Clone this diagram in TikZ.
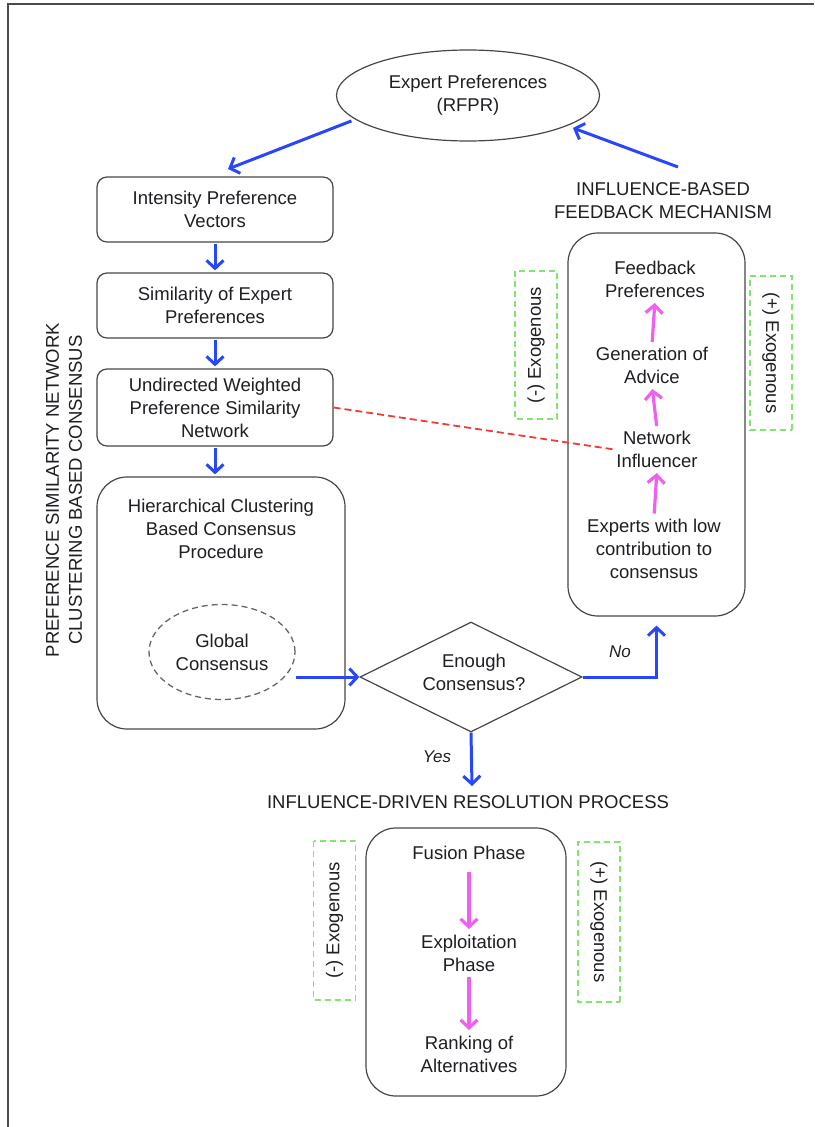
\documentclass[tikz,border=0pt]{standalone}
\usepackage{fontspec}
\setmainfont{Liberation Sans}
\usetikzlibrary{arrows.meta,shapes.geometric}
\definecolor{ablue}{RGB}{40,70,250}
\definecolor{amag}{RGB}{240,95,240}
\definecolor{ared}{RGB}{240,60,50}
\definecolor{agreen}{RGB}{130,230,110}
\definecolor{aline}{RGB}{70,70,70}
\definecolor{atext}{RGB}{30,30,35}
\newcommand{\fsz}{\fontsize{18.5}{23}\selectfont}
\begin{document}
\begin{tikzpicture}[x=1pt,y=-1pt,
  txt/.style={font=\fsz, align=center, inner sep=2pt, text=atext},
  box/.style={draw=aline, line width=1.2pt, rounded corners=10pt},
  bigbox/.style={draw=aline, line width=1.2pt, rounded corners=30pt},
  barrow/.style={draw=ablue, line width=3pt, -{Straight Barb[length=8pt,width=17pt]}},
  marrow/.style={draw=amag, line width=3.2pt, -{Straight Barb[length=8pt,width=17pt]}},
  exo/.style={draw=agreen, dashed, dash pattern=on 6pt off 4pt, line width=1.2pt, font=\fsz, text=atext, inner sep=0pt, minimum height=42pt},
  lbl/.style={font=\itshape\fontsize{17}{20}\selectfont, text=atext},
  ]
\useasboundingbox (0,0) rectangle (814,1127);
\draw[gray!60!black, line width=1.5pt] (8,1127) -- (8,4) -- (814,4);

% top ellipse
\node[draw=aline, line width=1.2pt, ellipse, minimum width=263pt, minimum height=91pt, txt] (ep) at (468,95.5) {Expert Preferences\\(RFPR)};

% left column
\node[box, txt, minimum width=236pt, minimum height=65pt] (b1) at (215,209.5) {Intensity Preference\\Vectors};
\node[box, txt, minimum width=236pt, minimum height=65pt] (b2) at (215,305.5) {Similarity of Expert\\Preferences};
\node[box, txt, minimum width=236pt, minimum height=77pt] (b3) at (215,407.5) {Undirected Weighted\\Preference Similarity\\Network};
\node[bigbox, minimum width=248pt, minimum height=252pt] (hc) at (221,603) {};
\node[txt] (hct) at (221,528.5) {Hierarchical Clustering\\Based Consensus\\Procedure};
\node[draw=gray!80!black, dashed, dash pattern=on 6pt off 4pt, line width=1.3pt, ellipse, minimum width=146pt, minimum height=95pt, txt] (gc) at (222,652) {Global\\Consensus};

\node[txt, rotate=90] (lh) at (64,490) {PREFERENCE SIMILARITY NETWORK\\CLUSTERING BASED CONSENSUS};

% decision
\node[draw=aline, line width=1.2pt, diamond, minimum width=222pt, minimum height=110pt, inner sep=0pt] (dm) at (471,677) {};
\node[txt] (dmt) at (474,672) {Enough\\Consensus?};

% right feedback block
\node[txt] (fh) at (663,201) {INFLUENCE-BASED\\FEEDBACK MECHANISM};
\node[bigbox, minimum width=177pt, minimum height=383pt] (rb) at (656.5,424.5) {};
\node[txt] (fb) at (655,279.5) {Feedback\\Preferences};
\node[txt] (gen) at (652,365.5) {Generation of\\Advice};
\node[txt] (net) at (657,449.5) {Network\\Influencer};
\node[txt] (exp) at (654,548.5) {Experts with low\\contribution to\\consensus};
\node[exo, rotate=90, minimum width=148pt] (ex1) at (536,345) {(-) Exogenous};
\node[exo, rotate=-90, minimum width=154pt] (ex2) at (771,353) {(+) Exogenous};

% bottom resolution block
\node[txt] (rh) at (468,802) {INFLUENCE-DRIVEN RESOLUTION PROCESS};
\node[bigbox, minimum width=200pt, minimum height=268pt] (bb) at (466,962) {};
\node[txt] (fus) at (469,853) {Fusion Phase};
\node[txt] (expl) at (469,953.5) {Exploitation\\Phase};
\node[txt] (rank) at (469,1054.5) {Ranking of\\Alternatives};
\node[exo, rotate=90, minimum width=159pt] (ex3) at (334.5,920.5) {(-) Exogenous};
\node[exo, rotate=-90, minimum width=160pt] (ex4) at (599,922) {(+) Exogenous};

% connectors
\coordinate (a1) at (228,169);
\coordinate (a2) at (678,167);
\coordinate (yesend) at (472,786);
\draw[barrow, shorten <=4pt] (ep.192) -- (a1);
\draw[barrow, shorten >=6pt] (a2) -- (ep.343);
\draw[barrow, shorten <=1pt, shorten >=2pt] (b1.south) -- (b2.north);
\draw[barrow, shorten <=1pt, shorten >=2pt] (b2.south) -- (b3.north);
\draw[barrow, shorten <=1pt, shorten >=2pt] (b3.south) -- (b3.south |- hc.north);
\draw[barrow] (gc.east |- dm.west) -- (dm.west);
\draw[barrow, shorten >=9pt] (dm.east) -| (rb.south);
\node[lbl] (no) at (620,652) {No};
\draw[barrow] (dm.south) -- (yesend);
\node[lbl] (yes) at (437,757) {Yes};
\draw[ared, line width=1.8pt, dash pattern=on 7pt off 4pt] (b3.east) -- (net.west);

\draw[marrow, shorten <=3pt, shorten >=3pt] (gen.north) -- (fb.south);
\draw[marrow, shorten <=3pt, shorten >=3pt] (net.north) -- (gen.south);
\draw[marrow, shorten <=3pt, shorten >=3pt] (exp.north) -- (net.south);
\draw[marrow, shorten <=10pt, shorten >=4pt] (fus.south) -- (expl.north);
\draw[marrow, shorten <=3pt, shorten >=4pt] (expl.south) -- (rank.north);
\end{tikzpicture}
\end{document}
